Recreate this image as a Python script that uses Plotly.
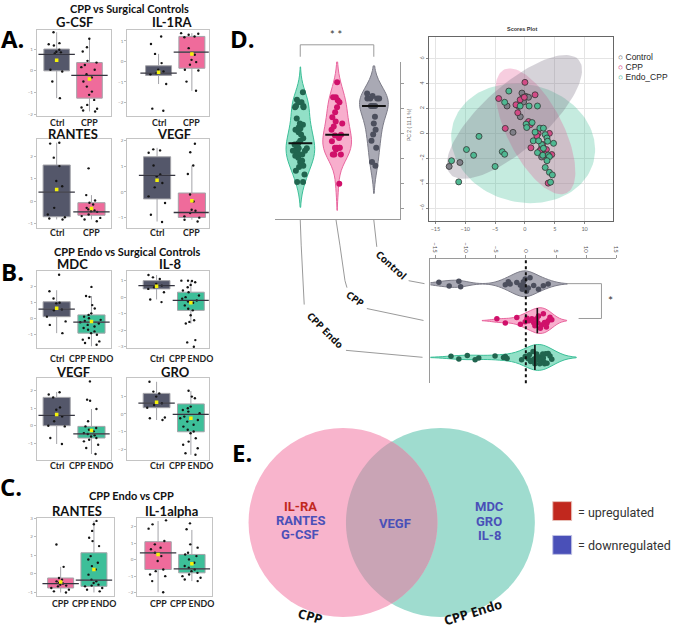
import numpy as np
import plotly.graph_objects as go

W, H = 685, 632


def PX(x):
    return x / W


def PY(y):
    return 1 - y / H


# ---------------------------------------------------------------- data
GROUPS_CTRL_CPP = ["Ctrl", "CPP"]
GROUPS_CTRL_ENDO = ["Ctrl", "CPP ENDO"]
GROUPS_CPP_ENDO = ["CPP", "CPP ENDO"]

# box statistics per group: q1, median, q3, lower whisker, upper whisker, mean
GCSF_STATS = [[0.0, 0.76, 1.0, -1.25, 1.77, 0.49], [-1.25, -0.21, 0.38, -1.86, 1.47, -0.37]]
GCSF_CTRL = [1.77, 1.27, 1.22, 1.16, 0.97, 0.88, 0.85, 0.8, 0.05, -0.03, -0.49, -1.25]
GCSF_CPP = [1.47, 1.08, 0.89, 0.46, 0.38, 0.27, 0.17, 0.05, -0.15, -0.3, -0.49, -0.72,
            -0.95, -1.1, -1.33, -1.56, -1.68, -1.74, -1.82, -1.86]

IL1RA_STATS = [[-0.68, -0.57, -0.21, -1.1, 0.37, -0.52], [-0.33, 0.46, 1.22, -1.43, 1.38, 0.36]]
IL1RA_CTRL = [1.22, 0.85, 0.37, -0.08, -0.4, -0.49, -0.57, -0.62, -1.1, -2.3, -2.4]
IL1RA_CPP = [1.38, 1.35, 1.3, 1.22, 1.18, 0.65, 0.33, 0.08, -0.03, -0.16, -0.4, -0.44, -0.98, -1.43]

RANTES_A_STATS = [[-0.7, 0.4, 1.62, -0.82, 2.62, 0.52], [-0.63, -0.48, -0.07, -0.82, 0.27, -0.33]]
RANTES_A_CTRL = [2.62, 2.58, 1.95, 1.57, 0.9, 0.67, -0.3, -0.6, -0.72, -0.78, -0.82]
RANTES_A_CPP = [1.47, 0.27, 0.03, -0.07, -0.15, -0.3, -0.37, -0.42, -0.45, -0.48, -0.6, -0.67,
                -0.75, -0.82, -0.9]

VEGF_A_STATS = [[-0.27, 0.65, 1.37, -1.15, 1.72, 0.46], [-0.99, -0.8, -0.04, -1.08, 1.03, -0.34]]
VEGF_A_CTRL = [1.66, 1.62, 1.53, 1.03, 0.68, 0.61, 0.35, 0.18, -0.17, -0.43, -0.89, -1.17]
VEGF_A_CPP = [1.88, 1.55, 1.03, 0.7, -0.1, -0.37, -0.69, -0.73, -0.82, -0.95, -1.0, -1.08, -1.15]

MDC_STATS = [[0.1, 0.58, 1.04, -0.94, 1.77, 0.63], [-0.94, -0.25, 0.21, -1.77, 1.4, -0.21]]
MDC_CTRL = [2.75, 1.7, 1.25, 0.98, 0.94, 0.56, 0.5, 0.1, -0.2, -0.42, -0.94]
MDC_ENDO = [1.98, 1.4, 1.35, 0.83, 0.62, 0.31, 0.21, 0.1, 0.0, -0.1, -0.17, -0.25, -0.33,
            -0.42, -0.52, -0.62, -0.73, -0.83, -0.94, -1.04, -1.25, -1.35, -1.46, -1.56, -1.67]

IL8_STATS = [[0.5, 0.7, 1.0, -0.14, 1.34, 0.66], [-0.8, -0.2, 0.3, -1.6, 1.0, -0.34]]
IL8_CTRL = [1.34, 1.2, 1.1, 0.8, 0.7, 0.6, 0.5, 0.3, -0.14, -0.3]
IL8_ENDO = [1.0, 1.0, 0.98, 0.9, 0.74, 0.6, 0.4, 0.3, 0.1, 0.0, -0.1, -0.2, -0.26, -0.34,
            -0.5, -0.7, -0.8, -1.1, -1.4, -1.5, -1.6, -2.6, -2.74, -3.0]

VEGF_B_STATS = [[0.0, 0.59, 1.61, -1.04, 1.92, 0.63], [-0.7, -0.47, -0.04, -1.61, 0.95, -0.27]]
VEGF_B_CTRL = [1.9, 1.77, 1.61, 1.04, 0.91, 0.53, 0.25, 0.0, -0.04, -0.7, -1.04]
VEGF_B_ENDO = [2.52, 1.48, 1.42, 0.95, 0.25, -0.04, -0.13, -0.23, -0.32, -0.42, -0.47, -0.55,
               -0.61, -0.7, -0.8, -0.89, -1.08, -1.27, -1.61]

GRO_STATS = [[0.35, 0.6, 1.15, -0.34, 1.8, 0.65], [-1.0, -0.02, 0.56, -2.29, 1.28, -0.24]]
GRO_CTRL = [1.8, 1.25, 1.15, 0.97, 0.6, 0.5, 0.35, -0.2, -0.24, -0.34]
GRO_ENDO = [1.3, 0.97, 0.88, 0.41, 0.32, 0.22, 0.13, 0.04, -0.15, -0.24, -0.34, -0.43, -0.61,
            -0.71, -0.89, -0.98, -1.08, -1.36, -1.55, -1.73, -1.92, -2.2, -2.29]

RANTES_C_STATS = [[-0.76, -0.52, -0.22, -1.0, 0.38, -0.43], [-0.67, -0.34, 1.14, -1.0, 2.86, 0.24]]
RANTES_C_CPP = [1.59, 0.38, -0.22, -0.31, -0.4, -0.49, -0.52, -0.58, -0.63, -0.67, -0.76,
                -0.85, -0.94, -1.0]
RANTES_C_ENDO = [2.86, 2.68, 2.32, 1.95, 1.77, 1.5, 0.96, 0.78, 0.6, 0.42, 0.24, -0.04, -0.31,
                 -0.4, -0.49, -0.58, -0.63, -0.67, -0.76, -0.85, -0.94]

IL1A_STATS = [[-0.59, 0.42, 1.09, -1.96, 2.34, 0.32], [-0.79, -0.55, 0.32, -1.29, 1.8, -0.24]]
IL1A_CPP = [2.38, 2.14, 1.88, 1.13, 0.93, 0.73, 0.63, 0.42, 0.22, -0.08, -0.59, -0.69, -0.89,
            -0.99, -1.29, -1.96]
IL1A_ENDO = [2.2, 1.84, 0.93, 0.73, 0.42, 0.32, 0.22, 0.02, -0.18, -0.38, -0.48, -0.59, -0.69,
             -0.79, -0.89, -0.99, -1.09, -1.19, -1.29]

# PC2 scores (vertical violins) per group
PC2_ENDO = [3.3, 2.7, 2.5, 2.5, 2.2, 2.2, 2.1, 2.1, 1.2, 0.8, 0.7, 0.5, 0.4, 0.3, 0.1, -0.1,
            -0.4, -0.6, -0.8, -0.9, -1.2, -1.2, -1.3, -1.4, -1.4, -1.55, -1.7, -1.8, -1.95,
            -2.2, -2.3, -2.6, -2.7, -3.0, -3.3, -3.9, -3.9]
PC2_CPP = [4.1, 2.9, 2.9, 2.66, 2.5, 2.1, 1.7, 1.3, 0.95, 0.8, 0.55, 0.3, -0.12, -0.18, -0.37,
           -0.63, -1.16, -1.16, -1.16, -1.16, -1.3, -1.7, -1.7, -1.7, -4.05]
PC2_CTRL = [3.2, 3.0, 2.8, 2.8, 2.8, 2.8, 2.2, 2.2, 2.2, 2.2, 1.34, 0.8, 0.3, -0.1, -0.6,
            -1.16, -2.3, -2.6]

# PC1 scores (horizontal violins) per group
PC1_CTRL = [-14.4, -12.7, -11.1, -10.8, -3.4, -2.9, -2.6, -1.5, -0.9, -0.6, -0.4, -0.3, -0.1,
            0.1, 0.4, 0.7, 1.3, 2.1, 2.9, 3.7]
PC1_CPP = [-4.8, -3.4, -1.5, -0.9, -0.1, 0.2, 0.5, 1.0, 1.3, 1.5, 1.8, 2.0, 2.1, 2.4, 2.6,
           2.9, 3.1, 3.4, 3.5, 3.7, 4.0, 4.3]
PC1_ENDO = [-12.4, -11.1, -9.7, -8.4, -7.8, -5.1, -3.7, -3.4, -3.1, -0.7, -0.1, 0.4, 0.6, 0.8,
            1.0, 1.2, 1.3, 1.5, 1.5, 1.7, 1.8, 2.0, 2.1, 2.3, 2.5, 2.6, 2.8, 2.9, 3.0, 3.1,
            3.3, 3.5, 3.7, 4.0, 4.3]

# PCA scores plot points
PCA_CTRL_X = [-0.5, -0.33, 0.17, 0.6, -3.0, -0.78, -2.0, -12.7, -10.9, 2.55, 2.8, -1.05, -0.22]
PCA_CTRL_Y = [3.24, 2.87, 2.97, 2.9, 2.2, 1.34, 0.08, -2.66, -2.34, -1.47, -1.9, 2.18, 2.53]
PCA_CPP_X = [0.0, -4.4, 1.7, -0.8, -0.1, -1.2, 0.6, -3.3, 2.2, 4.1, 1.0, 2.8, 3.6, 4.5, 3.9,
             2.0, 0.9, 3.4, 2.5, -1.5, 3.0]
PCA_CPP_Y = [4.1, 2.8, 3.1, 2.7, 2.9, 1.66, 0.95, 0.4, 0.0, 0.0, -1.16, -1.16, -1.3, -1.7,
             -4.0, -0.2, 0.7, -1.7, -1.4, 2.3, -0.9]
PCA_ENDO_X = [-2.7, -3.4, -0.8, 0.7, 2.1, 1.2, 0.2, 0.3, 2.5, 3.1, 1.7, 1.4, -7.7, -9.8, -8.6,
              -3.8, -3.4, -5.0, -12.3, -11.1, 3.4, 3.7, 3.8, 2.8, 4.8, 2.1, 3.0, 3.9, 4.1,
              3.7, 3.4, 4.1, 4.6, 4.3, 3.1, 2.3]
PCA_ENDO_Y = [3.4, 2.5, 2.2, 2.2, 2.2, 0.87, 0.74, 0.47, 0.42, 0.42, 0.1, -0.6, -0.24, -1.3,
              -1.76, -1.47, -1.68, -2.66, -2.2, -3.9, -0.1, -0.37, -0.63, -0.9, -0.8, -1.55,
              -1.76, -1.74, -1.87, -2.2, -2.74, -3.13, -3.34, -3.92, -1.2, -0.6]

# confidence ellipses: centre, semi-axis vector u, semi-axis vector v (data units)
ELL_ENDO = [(-0.3, -0.8), (11.9, 0.3), (-2.0, 4.8)]
ELL_CPP = [(1.75, 0.16), (5.25, -4.96), (4.17, 1.02)]
ELL_CTRL = [(-1.75, 1.32), (10.75, 4.6), (3.55, -1.91)]

# Venn contents
VENN_CPP_UP = ["IL-RA"]
VENN_CPP_DOWN = ["RANTES", "G-CSF"]
VENN_SHARED_DOWN = ["VEGF"]
VENN_ENDO_DOWN = ["MDC", "GRO", "IL-8"]

# ---------------------------------------------------------------- style
COL = {"Ctrl": "#54576a", "CPP": "#ef6b9b", "CPP ENDO": "#3dbf99"}
TITLE_FONT = dict(family="Lato", size=13, color="#111", weight=700)
SECTION_FONT = dict(family="Lato", size=11, color="#111", weight=700)
LETTER_FONT = dict(family="Open Sans", size=24, color="#000", weight=700)
GROUP_FONT = dict(family="Lato", size=8.8, color="#222", weight=700)

fig = go.Figure()
lay = {}
ann = []
shapes = []

# ---------------------------------------------------------------- box plots
BOX_SPECS = [
    # idx, frame (x0,y0,x1,y1) px, centres px, title pos, label y, groups, stats, pts, yrange, yticks
    (1, (37, 28, 112, 115), (57, 90), "G-CSF", (75, 20), 121, GROUPS_CTRL_CPP, GCSF_STATS,
     [GCSF_CTRL, GCSF_CPP], [-2.09, 1.88], [-2, -1, 0, 1]),
    (2, (128, 28, 210, 115), (159.5, 193), "IL-1RA", (173, 20), 121, GROUPS_CTRL_CPP, IL1RA_STATS,
     [IL1RA_CTRL, IL1RA_CPP], [-2.68, 1.54], [-2, -1, 0, 1]),
    (3, (37, 138, 112, 227), (57, 92), "RANTES", (73, 132.5), 232, GROUPS_CTRL_CPP, RANTES_A_STATS,
     [RANTES_A_CTRL, RANTES_A_CPP], [-1.2, 2.77], [-1, 0, 1, 2]),
    (4, (128, 138, 210, 227), (158, 193), "VEGF", (175, 132.5), 232, GROUPS_CTRL_CPP, VEGF_A_STATS,
     [VEGF_A_CTRL, VEGF_A_CPP], [-1.4, 2.05], [-1, 0, 1, 2]),
    (5, (37, 270, 112, 348), (57, 92), "MDC", (73, 263), 358, GROUPS_CTRL_ENDO, MDC_STATS,
     [MDC_CTRL, MDC_ENDO], [-1.9, 3.0], [-1, 0, 1, 2]),
    (6, (128, 270, 210, 348), (157.5, 192), "IL-8", (172, 263), 358, GROUPS_CTRL_ENDO, IL8_STATS,
     [IL8_CTRL, IL8_ENDO], [-3.1, 1.6], [-3, -2, -1, 0, 1]),
    (7, (37, 378, 112, 460), (57, 92), "VEGF", (73, 372), 466, GROUPS_CTRL_ENDO, VEGF_B_STATS,
     [VEGF_B_CTRL, VEGF_B_ENDO], [-1.94, 2.7], [-1, 0, 1, 2]),
    (8, (128, 378, 210, 460), (157.5, 192), "GRO", (177, 372), 466, GROUPS_CTRL_ENDO, GRO_STATS,
     [GRO_CTRL, GRO_ENDO], [-2.57, 2.0], [-2, -1, 0, 1]),
    (9, (37, 518, 115, 597), (61, 94.5), "RANTES", (77, 511), 604, GROUPS_CPP_ENDO, RANTES_C_STATS,
     [RANTES_C_CPP, RANTES_C_ENDO], [-1.2, 3.04], [-1, 0, 1, 2, 3]),
    (10, (138, 518, 213, 597), (159, 193), "IL-1alpha", (173, 511), 604, GROUPS_CPP_ENDO,
     IL1A_STATS, [IL1A_CPP, IL1A_ENDO], [-2.2, 2.55], [-2, -1, 0, 1, 2]),
]

for idx, frame, centres, title, tpos, ly, groups, stats, pts, yr, yt in BOX_SPECS:
    x0, y0, x1, y1 = frame
    c0, c1 = centres
    s = c1 - c0
    xa, ya = f"x{idx}", f"y{idx}"
    lay[f"xaxis{idx}"] = dict(
        domain=[PX(x0), PX(x1)], range=[(x0 - c0) / s, (x1 - c0) / s], anchor=ya,
        showticklabels=False, showline=True, mirror=True,
        linecolor="#c4c4c4", linewidth=1, showgrid=False, zeroline=False, ticks="",
        fixedrange=True)
    lay[f"yaxis{idx}"] = dict(
        domain=[PY(y1), PY(y0)], range=yr, anchor=xa, tickvals=yt, showline=True, mirror=True,
        linecolor="#c4c4c4", linewidth=1, showgrid=False, zeroline=False, ticks="outside",
        ticklen=2, tickcolor="#bbb", tickfont=dict(size=4.5, color="#888"), fixedrange=True)
    for gi, g in enumerate(groups):
        q1, med, q3, lo, hi, mean = stats[gi]
        fig.add_trace(go.Box(
            x=[gi], q1=[q1], median=[med], q3=[q3], lowerfence=[lo], upperfence=[hi],
            fillcolor=COL[g], line=dict(color="#a3a3a8", width=1), whiskerwidth=0, width=0.78,
            boxpoints=False, xaxis=xa, yaxis=ya, hoverinfo="skip"))
        fig.add_trace(go.Scatter(
            x=[gi], y=[med], mode="markers", xaxis=xa, yaxis=ya, hoverinfo="skip",
            marker=dict(symbol="line-ew", size=26, line=dict(width=1.3, color="#34343f"))))
        fig.add_trace(go.Box(
            y=pts[gi], x0=gi, boxpoints="all", jitter=0.85, pointpos=0, width=0.78,
            fillcolor="rgba(0,0,0,0)", line=dict(color="rgba(0,0,0,0)", width=0),
            marker=dict(size=2.4, color="#151515"), xaxis=xa, yaxis=ya, hoverinfo="skip"))
        fig.add_trace(go.Scatter(
            x=[gi], y=[mean], mode="markers", xaxis=xa, yaxis=ya, hoverinfo="skip",
            marker=dict(symbol="square", size=3.5, color="#f4f20c")))
        ann.append(dict(x=PX(centres[gi]), y=PY(ly), text=g, font=GROUP_FONT))
    ann.append(dict(x=PX(tpos[0]), y=PY(tpos[1]), text=title, font=TITLE_FONT))

ann += [
    dict(x=PX(130), y=PY(7), text="CPP vs Surgical Controls", font=SECTION_FONT),
    dict(x=PX(128), y=PY(251), text="CPP Endo vs Surgical Controls", font=SECTION_FONT),
    dict(x=PX(132), y=PY(496), text="CPP Endo vs CPP", font=SECTION_FONT),
    dict(x=PX(13), y=PY(37), text="A.", font=LETTER_FONT),
    dict(x=PX(13), y=PY(271), text="B.", font=LETTER_FONT),
    dict(x=PX(11), y=PY(487), text="C.", font=LETTER_FONT),
    dict(x=PX(244), y=PY(37), text="D.", font=LETTER_FONT),
    dict(x=PX(243), y=PY(453), text="E.", font=LETTER_FONT),
]

# ---------------------------------------------------------------- vertical violins (PC2)
VIO = [
    (0, PC2_ENDO, "rgba(110,214,180,0.75)", "#3cbf98", "#21654f"),
    (1, PC2_CPP, "rgba(247,160,196,0.85)", "#e8669e", "#d0106a"),
    (2, PC2_CTRL, "rgba(160,160,172,0.9)", "#7c7c88", "#4c4f5d"),
]
for pos, vals, fill, line, pcol in VIO:
    fig.add_trace(go.Violin(
        x0=pos, y=vals, fillcolor=fill, line=dict(color=line, width=1), width=0.78,
        points="all", pointpos=0, jitter=0.55, marker=dict(size=6, color=pcol),
        spanmode="soft", xaxis="x11", yaxis="y11", hoverinfo="skip", scalemode="width"))
    fig.add_trace(go.Scatter(
        x=[pos], y=[float(np.median(vals))], mode="markers", xaxis="x11", yaxis="y11",
        hoverinfo="skip", marker=dict(symbol="line-ew", size=17, line=dict(width=2, color="#111"))))
lay["xaxis11"] = dict(domain=[PX(277), PX(402)], range=[-0.68, 2.7], anchor="y11",
                      showline=True, linecolor="#9a9a9a", linewidth=1, showgrid=False,
                      zeroline=False, showticklabels=False, ticks="", fixedrange=True)
lay["yaxis11"] = dict(domain=[PY(218), PY(60)], range=[-6.88, 5.76], anchor="x11", side="right",
                      showline=True, linecolor="#9a9a9a", linewidth=1, showgrid=False,
                      zeroline=False, tickvals=[-6, -4, -2, 0, 2, 4], ticks="outside", ticklen=3,
                      tickcolor="#9a9a9a", showticklabels=False, fixedrange=True)

# ---------------------------------------------------------------- PCA scores plot
def ellipse(spec, n=120):
    (cx, cy), u, v = spec
    t = np.linspace(0, 2 * np.pi, n)
    return cx + u[0] * np.cos(t) + v[0] * np.sin(t), cy + u[1] * np.cos(t) + v[1] * np.sin(t)


for spec, fc in [(ELL_ENDO, "rgba(64,190,150,0.30)"), (ELL_CPP, "rgba(228,90,150,0.30)"),
                 (ELL_CTRL, "rgba(120,110,130,0.30)")]:
    ex, ey = ellipse(spec)
    fig.add_trace(go.Scatter(x=ex, y=ey, mode="lines", fill="toself", fillcolor=fc,
                             line=dict(width=0), xaxis="x12", yaxis="y12", hoverinfo="skip"))
for xs, ys, fc in [(PCA_CTRL_X, PCA_CTRL_Y, "#7f7f88"), (PCA_CPP_X, PCA_CPP_Y, "#d24b86"),
                   (PCA_ENDO_X, PCA_ENDO_Y, "#4fb892")]:
    fig.add_trace(go.Scatter(x=xs, y=ys, mode="markers", xaxis="x12", yaxis="y12",
                             hoverinfo="skip",
                             marker=dict(size=6, color=fc, line=dict(width=0.8, color="#333"))))
lay["xaxis12"] = dict(domain=[PX(432), PX(617)], range=[-16, 14.83], anchor="y12",
                      tickvals=[-15, -10, -5, 0, 5, 10], showline=True, mirror=True,
                      linecolor="#666", linewidth=1, showgrid=True, gridcolor="#e4e4e4",
                      zeroline=False, ticks="outside", ticklen=2, tickcolor="#888",
                      tickfont=dict(size=5.5, color="#666"), fixedrange=True)
lay["yaxis12"] = dict(domain=[PY(220), PY(35)], range=[-7.04, 7.76], anchor="x12",
                      tickvals=[-6, -4, -2, 0, 2, 4, 6], showline=True, mirror=True,
                      linecolor="#666", linewidth=1, showgrid=True, gridcolor="#e4e4e4",
                      zeroline=False, ticks="outside", ticklen=2, tickcolor="#888",
                      tickangle=-90, tickfont=dict(size=5.5, color="#666"), fixedrange=True)
ann += [
    dict(x=PX(525), y=PY(27), text="Scores Plot",
         font=dict(family="Liberation Sans", size=5.5, color="#333", weight=700)),
    dict(x=PX(412), y=PY(123), text="PC 2 ( 11.1 %)", textangle=-90,
         font=dict(family="Liberation Sans", size=5, color="#666")),
]
LEG = [("Control", "#555"), ("CPP", "#d0105f"), ("Endo_CPP", "#2fae88")]
for i, (name, c) in enumerate(LEG):
    ann.append(dict(x=PX(621), y=PY(55 + 10 * i), xanchor="left",
                    text=f'<span style="color:{c}">○</span> {name}',
                    font=dict(family="Liberation Sans", size=8.5, color="#222")))

# ---------------------------------------------------------------- horizontal violins (PC1)
HVIO = [
    (2, PC1_CTRL, "rgba(160,160,172,0.9)", "#7c7c88", "#4c4f5d"),
    (1, PC1_CPP, "rgba(247,160,196,0.85)", "#e8669e", "#d0106a"),
    (0, PC1_ENDO, "rgba(110,214,180,0.75)", "#3cbf98", "#21654f"),
]
for pos, vals, fill, line, pcol in HVIO:
    fig.add_trace(go.Violin(
        y0=pos, x=vals, orientation="h", fillcolor=fill, line=dict(color=line, width=1),
        width=0.7, points="all", pointpos=0, jitter=0.6, marker=dict(size=5.5, color=pcol),
        spanmode="soft", xaxis="x13", yaxis="y13", hoverinfo="skip", scalemode="width"))
for pos, vals in [(1, PC1_CPP), (0, PC1_ENDO)]:
    fig.add_trace(go.Scatter(
        x=[float(np.median(vals))], y=[pos], mode="markers", xaxis="x13", yaxis="y13",
        hoverinfo="skip", marker=dict(symbol="line-ns", size=18, line=dict(width=1.6, color="#111"))))
lay["xaxis13"] = dict(domain=[PX(433), PX(620)], range=[-15.8, 15.0], anchor="y13", side="top",
                      tickvals=[-15, -10, -5, 0, 5, 10, 15], showline=True, linecolor="#9a9a9a",
                      linewidth=1, showgrid=False, zeroline=False, ticks="outside", ticklen=3,
                      tickcolor="#9a9a9a", tickangle=90, tickfont=dict(size=6, color="#555"),
                      fixedrange=True)
lay["yaxis13"] = dict(domain=[PY(383), PY(258)], range=[-0.7, 2.68], anchor="x13",
                      showline=True, linecolor="#9a9a9a", linewidth=1, showgrid=False,
                      zeroline=False, showticklabels=False, ticks="", fixedrange=True)
shapes.append(dict(type="line", xref="x13", yref="y13 domain", x0=0, x1=0, y0=0, y1=1,
                   line=dict(color="#111", width=2, dash="dot")))


def path_px(pts):
    return "M " + " L ".join(f"{PX(x):.5f},{PY(y):.5f}" for x, y in pts)


LINE = dict(color="#9a9a9a", width=1)
for pts in [
    [(302, 43 + 12), (302, 43), (376, 43), (376, 55)],
    [(570, 283), (605, 283), (605, 318), (582, 318)],
    [(376, 219), (379, 246)], [(411, 280), (427, 283)],
    [(338, 219), (342, 245), (347, 280), (349, 287)], [(369, 308), (426, 320)],
    [(302, 219), (303, 245), (306, 304)], [(348, 350), (425, 357)],
]:
    shapes.append(dict(type="path", xref="paper", yref="paper", path=path_px(pts), line=LINE))

DFONT = dict(family="Noto Sans", size=10, color="#111", weight=700)
ann += [
    dict(x=PX(338), y=PY(33), text="* *", font=dict(size=11, color="#333")),
    dict(x=PX(614), y=PY(300), text="*", font=dict(size=12, color="#333")),
    dict(x=PX(394), y=PY(264), text="Control", textangle=42, font=DFONT),
    dict(x=PX(358), y=PY(298), text="CPP", textangle=35, font=DFONT),
    dict(x=PX(327), y=PY(330), text="CPP Endo", textangle=45, font=DFONT),
]

# ---------------------------------------------------------------- Venn diagram (E)
R = 95
CP, CE = (345, 523), (443, 523)
shapes.append(dict(type="circle", xref="paper", yref="paper", x0=PX(CE[0] - R), x1=PX(CE[0] + R),
                   y0=PY(CE[1] + R), y1=PY(CE[1] - R), fillcolor="#9fdccf", line=dict(width=0),
                   layer="below"))
shapes.append(dict(type="circle", xref="paper", yref="paper", x0=PX(CP[0] - R), x1=PX(CP[0] + R),
                   y0=PY(CP[1] + R), y1=PY(CP[1] - R), fillcolor="#f8b4cc", line=dict(width=0),
                   layer="below"))
d = CE[0] - CP[0]
th0 = np.arccos((d / 2) / R)
a1 = np.linspace(-th0, th0, 60)
a2 = np.linspace(np.pi - th0, np.pi + th0, 60)
lens = [(CP[0] + R * np.cos(a), CP[1] + R * np.sin(a)) for a in a1] + \
       [(CE[0] + R * np.cos(a), CE[1] + R * np.sin(a)) for a in a2]
shapes.append(dict(type="path", xref="paper", yref="paper", path=path_px(lens) + " Z",
                   fillcolor="#c9a4b5", line=dict(width=0), layer="below"))

UP, DOWN = "#c1281e", "#4a50b8"
VFONT = dict(family="Roboto", size=13, weight=700)
for i, t in enumerate(VENN_CPP_UP + VENN_CPP_DOWN):
    ann.append(dict(x=PX(302), y=PY(507 + 14 * i), text=t,
                    font=dict(VFONT, color=UP if t in VENN_CPP_UP else DOWN)))
for t in VENN_SHARED_DOWN:
    ann.append(dict(x=PX(397), y=PY(524), text=t, font=dict(VFONT, color=DOWN)))
for i, t in enumerate(VENN_ENDO_DOWN):
    ann.append(dict(x=PX(492), y=PY(507 + 14.5 * i), text=t, font=dict(VFONT, color=DOWN)))
ann += [
    dict(x=PX(312), y=PY(617), text="CPP", textangle=16,
         font=dict(family="Noto Sans", size=13, color="#111", weight=700)),
    dict(x=PX(476), y=PY(613), text="CPP Endo", textangle=-17,
         font=dict(family="Noto Sans", size=13, color="#111", weight=700)),
    dict(x=PX(580), y=PY(513), xanchor="left", text="= upregulated",
         font=dict(family="Roboto", size=12.5, color="#333")),
    dict(x=PX(580), y=PY(546), xanchor="left", text="= downregulated",
         font=dict(family="Roboto", size=12.5, color="#333")),
]
shapes.append(dict(type="rect", xref="paper", yref="paper", x0=PX(556), x1=PX(575),
                   y0=PY(521), y1=PY(502), fillcolor=UP, line=dict(color="#e8c0b8", width=1)))
shapes.append(dict(type="rect", xref="paper", yref="paper", x0=PX(556), x1=PX(575),
                   y0=PY(555), y1=PY(536), fillcolor=DOWN, line=dict(color="#c0c2e4", width=1)))

for a in ann:
    a.setdefault("xref", "paper")
    a.setdefault("yref", "paper")
    a.setdefault("showarrow", False)
    a.setdefault("xanchor", "center")
    a.setdefault("yanchor", "middle")
    a.setdefault("borderpad", 0)

fig.update_layout(
    width=W, height=H, autosize=False, margin=dict(l=0, r=0, t=0, b=0),
    paper_bgcolor="white", plot_bgcolor="white", showlegend=False,
    font=dict(family="Lato", color="#222"), annotations=ann, shapes=shapes, **lay)
fig.write_html("out.html", config={"displayModeBar": False},
               post_script="document.body.style.margin='0';")
